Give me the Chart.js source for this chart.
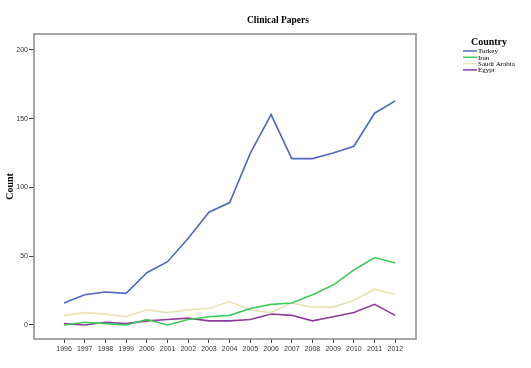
<!DOCTYPE html>
<html>
<head>
<meta charset="utf-8">
<script src="https://cdn.jsdelivr.net/npm/chart.js@4"></script>
<style>
  html, body { margin: 0; padding: 0; background: #fff; }
  #wrap { width: 531px; height: 368px; }
</style>
</head>
<body>
<div id="wrap"><canvas id="papers_chart"></canvas></div>
<script>
const years = [1996, 1997, 1998, 1999, 2000, 2001, 2002, 2003, 2004, 2005, 2006, 2007, 2008, 2009, 2010, 2011, 2012];
const turkey = [16, 22, 24, 23, 38, 46, 63, 82, 89, 125, 153, 121, 121, 125, 130, 154, 163];
const iran = [0, 2, 1, 0, 4, 0, 4, 6, 7, 12, 15, 16, 22, 29, 40, 49, 45];
const saudiArabia = [7, 9, 8, 6, 11, 9, 11, 12, 17, 11, 9, 16, 13, 13, 18, 26, 22];
const egypt = [1, 0, 2, 1, 3, 4, 5, 3, 3, 4, 8, 7, 3, 6, 9, 15, 7];
const yTicks = [0, 50, 100, 150, 200];

const points = vals => vals.map((v, i) => ({x: years[i], y: v}));

// frame, title and legend drawn by hand to match the SPSS look
const decor = {
	id: 'decor',
	afterDraw(chart) {
		const c = chart.ctx, a = chart.chartArea;
		c.save();
		c.strokeStyle = '#8a8a8a';
		c.lineWidth = 1.5;
		c.strokeRect(a.left, a.top, a.right - a.left, a.bottom - a.top);

		c.fillStyle = '#000';
		c.textAlign = 'center';
		c.textBaseline = 'middle';
		c.font = 'bold 9.5px "Liberation Serif"';
		c.fillText('Clinical Papers', 278, 21);

		c.font = 'bold 10px "Liberation Serif"';
		c.fillText('Country', 489, 42);
		c.font = '7px "Liberation Serif"';
		c.textAlign = 'left';
		chart.data.datasets.forEach((ds, i) => {
			const y = 51 + i * 6.3;
			c.strokeStyle = ds.borderColor;
			c.lineWidth = 1.5;
			c.beginPath();
			c.moveTo(463, y);
			c.lineTo(477, y);
			c.stroke();
			c.fillStyle = '#000';
			c.fillText(ds.label, 478, y + 0.5);
		});
		c.restore();
	}
};

new Chart(document.getElementById('papers_chart'), {
	type: 'line',
	data: {
		datasets: [{
			label: 'Turkey',
			data: points(turkey),
			borderColor: '#4f68c4'
		}, {
			label: 'Iran',
			data: points(iran),
			borderColor: '#3fcb5a'
		}, {
			label: 'Saudi Arabia',
			data: points(saudiArabia),
			borderColor: '#e8e2b4'
		}, {
			label: 'Egypt',
			data: points(egypt),
			borderColor: '#8e3c9c'
		}]
	},
	options: {
		responsive: true,
		maintainAspectRatio: false,
		animation: false,
		elements: {
			point: {radius: 0},
			line: {borderWidth: 1.6, tension: 0}
		},
		layout: {padding: {top: 34, right: 115, left: 0, bottom: 0}},
		plugins: {
			legend: {display: false},
			tooltip: {enabled: false}
		},
		scales: {
			x: {
				type: 'linear',
				min: 1994.55,
				max: 2013,
				afterBuildTicks: s => { s.ticks = years.map(v => ({value: v})); },
				afterFit: s => { s.height = 29; },
				border: {display: false},
				grid: {drawOnChartArea: false, tickLength: 4, color: '#444', lineWidth: 1},
				ticks: {
					callback: v => String(v),
					autoSkip: false,
					maxRotation: 0,
					padding: 2,
					color: '#333',
					font: {family: '"Liberation Sans"', size: 7}
				}
			},
			y: {
				min: -10.2,
				max: 211.6,
				afterBuildTicks: s => { s.ticks = yTicks.map(v => ({value: v})); },
				afterFit: s => { s.width = 34; },
				border: {display: false},
				grid: {drawOnChartArea: false, tickLength: 5, color: '#444', lineWidth: 1},
				title: {
					display: true,
					text: 'Count',
					padding: {top: 4, bottom: 0},
					color: '#000',
					font: {family: '"Liberation Serif"', size: 10, weight: 'bold'}
				},
				ticks: {
					padding: 1,
					color: '#333',
					font: {family: '"Liberation Sans"', size: 7}
				}
			}
		}
	},
	plugins: [decor]
});
</script>
</body>
</html>
